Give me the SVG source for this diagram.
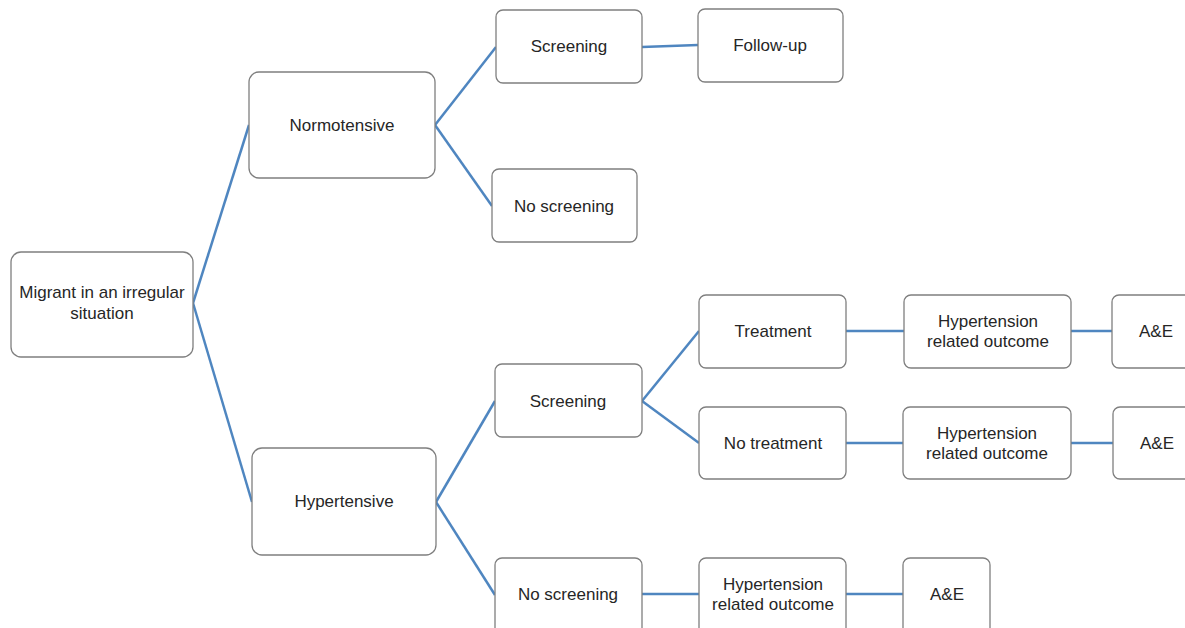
<svg xmlns="http://www.w3.org/2000/svg" width="1185" height="628" viewBox="0 0 1185 628">
<style>
.box{fill:#fff;stroke:#7f7f7f;stroke-width:1.3}
.t{font-family:"Liberation Sans",Arial,sans-serif;font-size:17px;fill:#262626;text-anchor:middle;dominant-baseline:central}
.c{stroke:#4f86c0;stroke-width:2.5;fill:none}
</style>
<rect width="1185" height="628" fill="#fff"/>
<g id="connectors">
<line class="c" x1="193" y1="303" x2="249" y2="125"/>
<line class="c" x1="193" y1="303" x2="252" y2="502"/>
<line class="c" x1="435" y1="125" x2="496" y2="47"/>
<line class="c" x1="435" y1="125" x2="492" y2="206"/>
<line class="c" x1="642" y1="47" x2="698" y2="45"/>
<line class="c" x1="436" y1="502" x2="495" y2="401"/>
<line class="c" x1="436" y1="502" x2="495" y2="595"/>
<line class="c" x1="642" y1="401" x2="699" y2="331"/>
<line class="c" x1="642" y1="401" x2="699" y2="443"/>
<line class="c" x1="846" y1="331" x2="904" y2="331"/>
<line class="c" x1="1071" y1="331" x2="1112" y2="331"/>
<line class="c" x1="846" y1="443" x2="903" y2="443"/>
<line class="c" x1="1071" y1="443" x2="1113" y2="443"/>
<line class="c" x1="642" y1="594" x2="699" y2="594"/>
<line class="c" x1="846" y1="594" x2="903" y2="594"/>
</g>
<g id="root"><rect class="box" x="11" y="252" width="182" height="105" rx="10"/><text class="t" x="102" y="292">Migrant in an irregular</text><text class="t" x="102" y="313">situation</text></g>
<g id="normotensive"><rect class="box" x="249" y="72" width="186" height="106" rx="10"/><text class="t" x="342" y="125">Normotensive</text></g>
<g id="screening1"><rect class="box" x="496" y="10" width="146" height="73" rx="7"/><text class="t" x="569" y="46">Screening</text></g>
<g id="followup"><rect class="box" x="698" y="9" width="145" height="73" rx="7"/><text class="t" x="770" y="45">Follow-up</text></g>
<g id="noscreening1"><rect class="box" x="492" y="169" width="145" height="73" rx="7"/><text class="t" x="564" y="206">No screening</text></g>
<g id="hypertensive"><rect class="box" x="252" y="448" width="184" height="107" rx="10"/><text class="t" x="344" y="501">Hypertensive</text></g>
<g id="screening2"><rect class="box" x="495" y="364" width="147" height="73" rx="7"/><text class="t" x="568" y="401">Screening</text></g>
<g id="treatment"><rect class="box" x="699" y="295" width="147" height="73" rx="7"/><text class="t" x="773" y="331">Treatment</text></g>
<g id="hro1"><rect class="box" x="904" y="295" width="167" height="73" rx="7"/><text class="t" x="988" y="321">Hypertension</text><text class="t" x="988" y="341">related outcome</text></g>
<g id="ae1"><rect class="box" x="1112" y="295" width="90" height="73" rx="7"/><text class="t" x="1156" y="331">A&amp;E</text></g>
<g id="notreatment"><rect class="box" x="699" y="407" width="147" height="72" rx="7"/><text class="t" x="773" y="443">No treatment</text></g>
<g id="hro2"><rect class="box" x="903" y="407" width="168" height="72" rx="7"/><text class="t" x="987" y="433">Hypertension</text><text class="t" x="987" y="453">related outcome</text></g>
<g id="ae2"><rect class="box" x="1113" y="407" width="90" height="72" rx="7"/><text class="t" x="1157" y="443">A&amp;E</text></g>
<g id="noscreening2"><rect class="box" x="495" y="558" width="147" height="80" rx="7"/><text class="t" x="568" y="594">No screening</text></g>
<g id="hro3"><rect class="box" x="699" y="558" width="147" height="80" rx="7"/><text class="t" x="773" y="584">Hypertension</text><text class="t" x="773" y="604">related outcome</text></g>
<g id="ae3"><rect class="box" x="903" y="558" width="87" height="80" rx="7"/><text class="t" x="947" y="594">A&amp;E</text></g>
</svg>
